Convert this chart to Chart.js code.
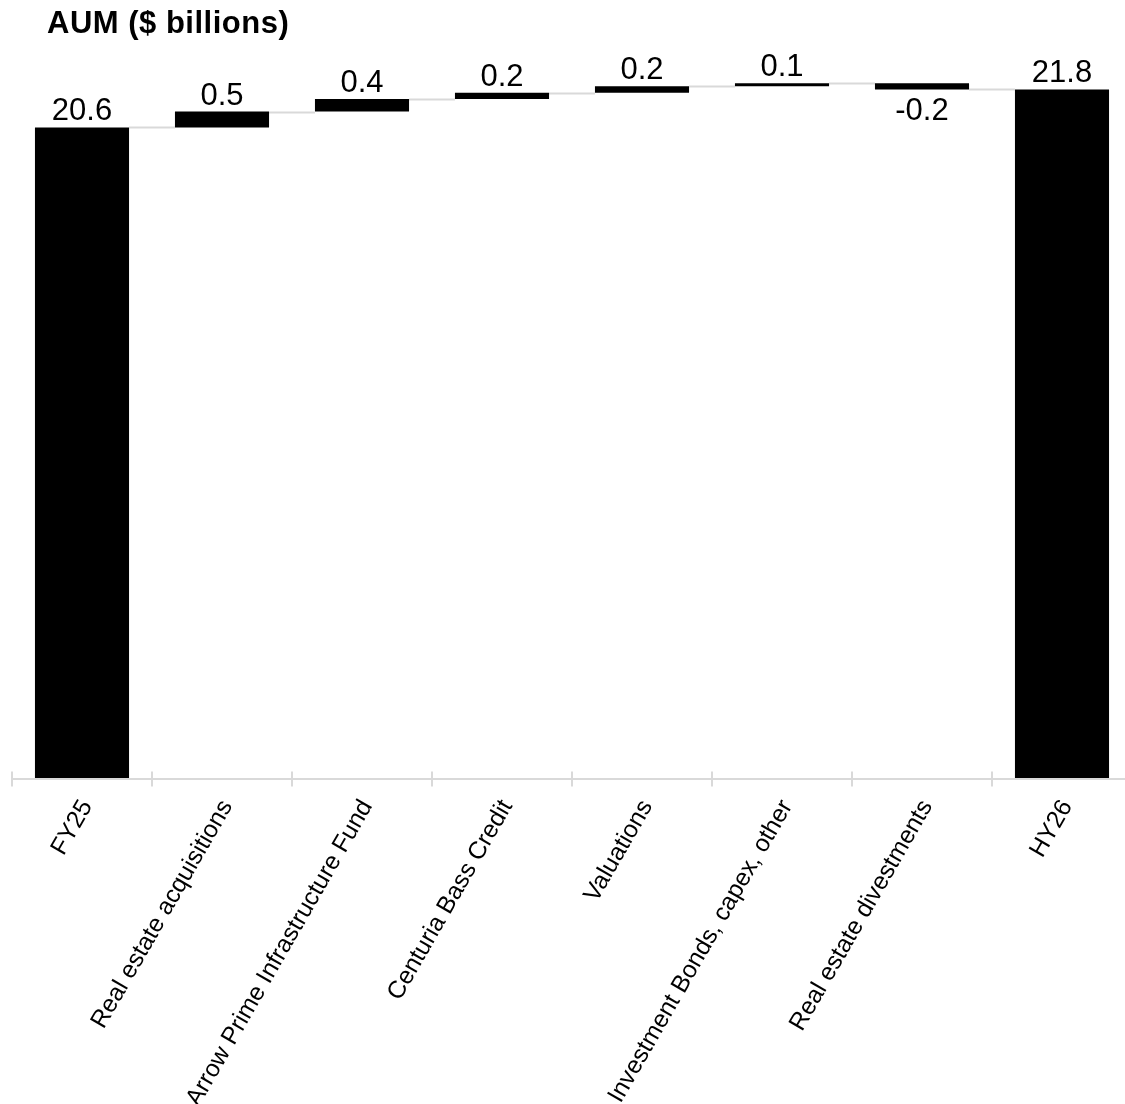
<!DOCTYPE html>
<html>
<head>
<meta charset="utf-8">
<title>AUM ($ billions)</title>
<script src="https://cdn.jsdelivr.net/npm/chart.js@4/dist/chart.umd.min.js"></script>
<style>
  html, body { margin: 0; padding: 0; background: #fff; overflow: hidden; }
  #wrap { width: 1140px; height: 1104px; }
</style>
</head>
<body>
<div id="wrap"><canvas id="c" width="1140" height="1104"></canvas></div>
<script>
// AUM bridge, $ billions
const categories = [
  'FY25',
  'Real estate acquisitions',
  'Arrow Prime Infrastructure Fund',
  'Centuria Bass Credit',
  'Valuations',
  'Investment Bonds, capex, other',
  'Real estate divestments',
  'HY26'
];
const openingAUM = 20.6;
const movements = [0.5, 0.4, 0.2, 0.2, 0.1, -0.2];
const closingAUM = 21.8;
const yTicks = [0, 24];

// floating bars: [start, end] for each step of the bridge
const barRanges = [];
const barValues = [];
const levels = [];          // running total after each bar
barRanges.push([0, openingAUM]);
barValues.push(openingAUM);
let running = openingAUM;
levels.push(running);
movements.forEach(m => {
  const next = Math.round((running + m) * 10) / 10;
  barRanges.push([running, next]);
  barValues.push(m);
  running = next;
  levels.push(running);
});
barRanges.push([0, closingAUM]);
barValues.push(closingAUM);
levels.push(closingAUM);

const FONT = "'Liberation Sans', Arial, Helvetica, sans-serif";
const GREY = '#d9d9d9';

const bridgePlugin = {
  id: 'bridge',
  beforeDatasetsDraw(chart) {
    const { ctx, chartArea, scales } = chart;
    const meta = chart.getDatasetMeta(0);
    const y = scales.y;
    const x = scales.x;
    ctx.save();
    // category axis line with boundary ticks
    ctx.strokeStyle = GREY;
    ctx.lineWidth = 2;
    const axisY = chartArea.bottom + 1;
    ctx.beginPath();
    ctx.moveTo(chartArea.left, axisY);
    ctx.lineTo(chartArea.right, axisY);
    const n = categories.length;
    const step = (x.getPixelForValue(1) - x.getPixelForValue(0));
    for (let i = 0; i <= n; i++) {
      const px = x.getPixelForValue(0) - step / 2 + i * step;
      ctx.moveTo(px, axisY - 7.5);
      ctx.lineTo(px, axisY + 7.5);
    }
    ctx.stroke();
    // connectors between consecutive bars
    ctx.beginPath();
    for (let i = 0; i < meta.data.length - 1; i++) {
      const a = meta.data[i], b = meta.data[i + 1];
      const py = Math.round(y.getPixelForValue(levels[i])) + 0.5;
      ctx.moveTo(a.x + a.width / 2, py);
      ctx.lineTo(b.x - b.width / 2, py);
    }
    ctx.stroke();
    ctx.restore();
  },
  afterDatasetsDraw(chart) {
    const { ctx } = chart;
    const meta = chart.getDatasetMeta(0);
    ctx.save();
    ctx.fillStyle = '#000';
    ctx.font = '31px ' + FONT;
    ctx.textAlign = 'center';
    ctx.textBaseline = 'alphabetic';
    meta.data.forEach((bar, i) => {
      const v = barValues[i];
      const label = v.toFixed(1);
      const top = Math.min(bar.y, bar.base);
      const bottom = Math.max(bar.y, bar.base);
      if (v < 0) {
        ctx.fillText(label, bar.x, bottom + 31);
      } else {
        ctx.fillText(label, bar.x, top - 7);
      }
    });
    // heading
    ctx.textAlign = 'left';
    ctx.font = 'bold 31px ' + FONT;
    if ('letterSpacing' in ctx) ctx.letterSpacing = '0.5px';
    ctx.fillText('AUM ($ billions)', 47, 33);
    ctx.restore();
  }
};

new Chart(document.getElementById('c'), {
  type: 'bar',
  data: {
    labels: categories,
    datasets: [{
      data: barRanges,
      backgroundColor: '#000000',
      borderWidth: 0,
      barPercentage: 1,
      categoryPercentage: 0.672
    }]
  },
  options: {
    responsive: false,
    devicePixelRatio: 1,
    animation: false,
    layout: { padding: { top: 20, left: 12, right: 8, bottom: 0 } },
    plugins: {
      legend: { display: false },
      tooltip: { enabled: false },
      title: { display: false }
    },
    scales: {
      x: {
        grid: { display: false, drawTicks: false },
        border: { display: false },
        ticks: {
          autoSkip: false,
          minRotation: 60,
          maxRotation: 60,
          padding: 17,
          labelOffset: 5,
          color: '#000',
          font: { family: FONT, size: 24.5 }
        },
        afterFit(scale) { scale.height = 326; }
      },
      y: {
        display: false,
        min: yTicks[0],
        max: yTicks[1]
      }
    }
  },
  plugins: [bridgePlugin]
});
</script>
</body>
</html>
